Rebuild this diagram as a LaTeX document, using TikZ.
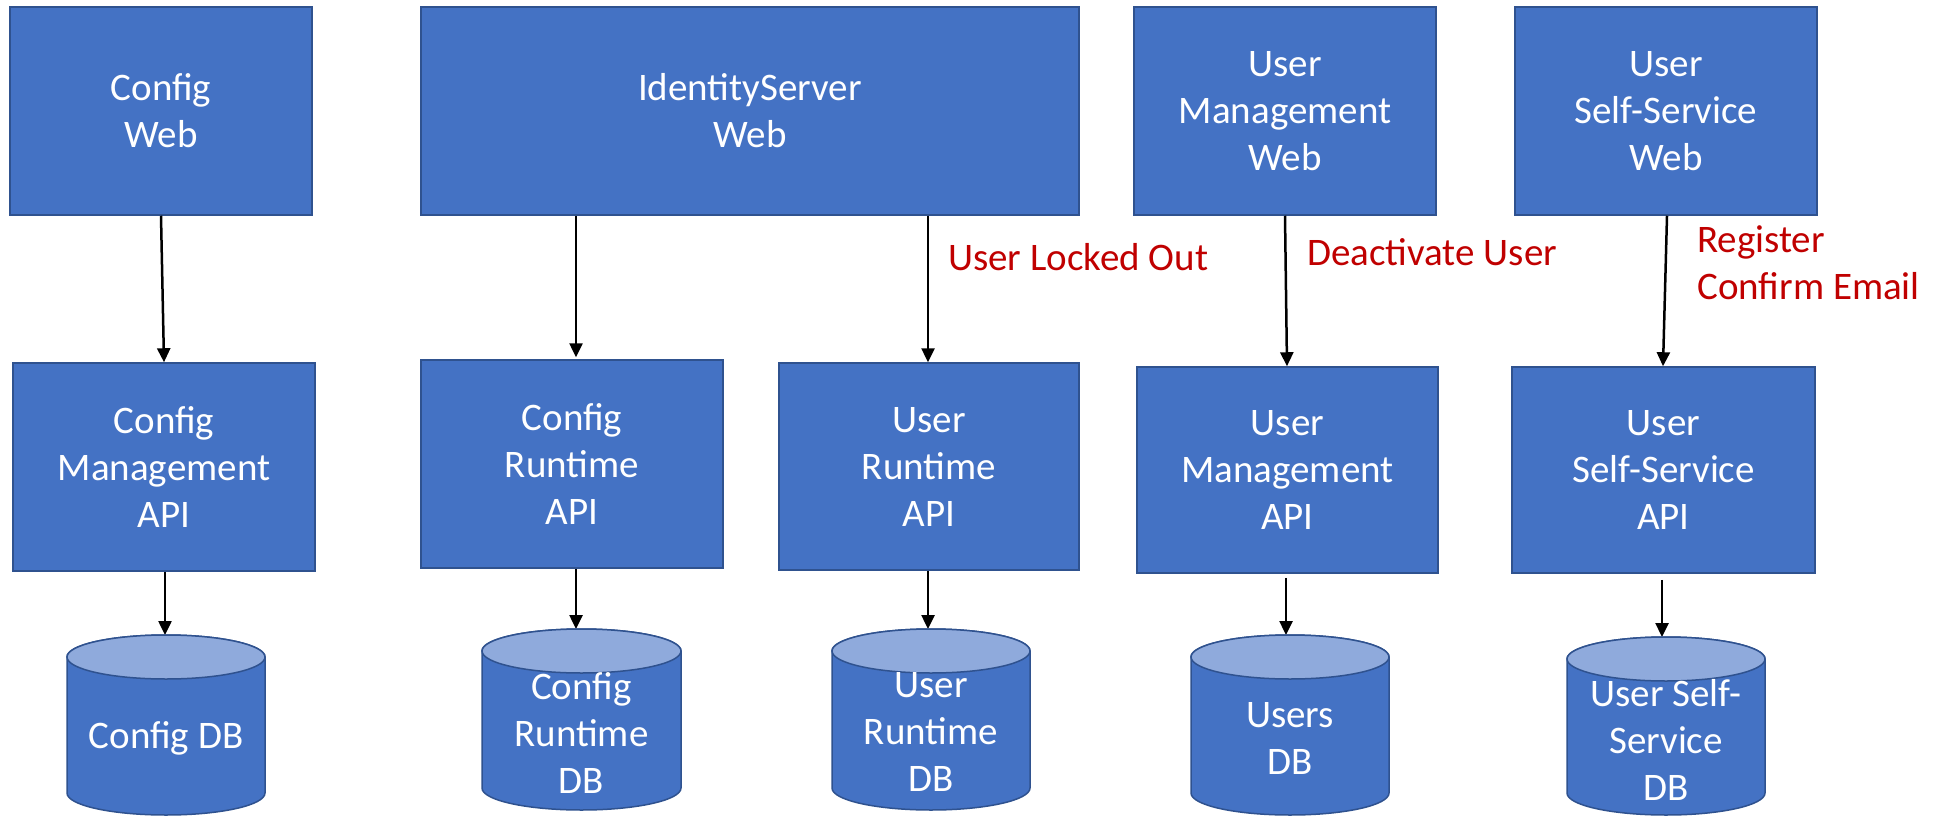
\documentclass[tikz,border=0pt]{standalone}
\usepackage{fontspec}
\setmainfont{Carlito}
\usetikzlibrary{arrows.meta,calc}
\definecolor{boxblue}{HTML}{4472C4}
\definecolor{boxedge}{HTML}{2F528F}
\definecolor{toplight}{HTML}{8FAADC}
\definecolor{labelred}{HTML}{C00000}
\newcommand\dbcyl[4]{%
  \pgfmathsetmacro\cxa{(#1+#2)/2}%
  \pgfmathsetmacro\rxa{(#2-#1)/2}%
  \filldraw[dbbody] (#1,#3+22) -- (#1,#4-22)
     arc[start angle=180,end angle=0,x radius=\rxa,y radius=22]
     -- (#2,#3+22)
     arc[start angle=0,end angle=-180,x radius=\rxa,y radius=22] -- cycle;
  \filldraw[dbtop] (\cxa,#3+22) ellipse[x radius=\rxa,y radius=22];
}
\begin{document}
\begin{tikzpicture}[x=1pt,y=-1pt,
  bx/.style={draw=boxedge,fill=boxblue,line width=1.5pt,inner sep=0pt,
     text=white,align=center,font=\fontsize{39}{47}\selectfont},
  dbbody/.style={draw=boxedge,fill=boxblue,line width=1.5pt},
  dbtop/.style={draw=boxedge,fill=toplight,line width=1.5pt},
  dbtext/.style={text=white,align=center,inner sep=0pt,font=\fontsize{39}{47}\selectfont},
  lbl/.style={text=labelred,align=left,inner sep=0pt,font=\fontsize{39}{47}\selectfont},
  arr/.style={draw=black,line width=2.5pt,-{Triangle[length=14pt,width=13pt]}}]
\fill[white] (0,0) rectangle (1938,816);
\useasboundingbox (0,0) rectangle (1938,816);

% top row
\node[bx,minimum width=302pt,minimum height=208pt] (cw) at (161,111) {Config\\Web};
\node[bx,minimum width=658pt,minimum height=208pt] (isw) at (750,111) {IdentityServer\\Web};
\node[bx,minimum width=302pt,minimum height=208pt] (umw) at (1285,111) {User\\Management\\Web};
\node[bx,minimum width=302pt,minimum height=208pt] (ssw) at (1666,111) {User\\Self-Service\\Web};

% API row
\node[bx,minimum width=302pt,minimum height=208pt] (cma) at (164,467) {Config\\Management\\API};
\node[bx,minimum width=302pt,minimum height=208pt] (cra) at (572,464) {Config\\Runtime\\API};
\node[bx,minimum width=300pt,minimum height=207pt] (ura) at (929,466.5) {User\\Runtime\\API};
\node[bx,minimum width=301pt,minimum height=206pt] (uma) at (1287.5,470) {User\\Management\\API};
\node[bx,minimum width=303pt,minimum height=206pt] (ssa) at (1663.5,470) {User\\Self-Service\\API};

% arrow top targets of DBs
\coordinate (cdbtop) at (165,635);
\coordinate (crdbtop) at (576,629);
\coordinate (urdbtop) at (928,629);
\coordinate (udbtop) at (1286,635);
\coordinate (ssdbtop) at (1662,637);

% arrows
\draw[arr] (cw.south -| 161,0) -- (cma.north -| 164,0);
\draw[arr,shorten >=2pt] (isw.south -| 576,0) -- (cra.north -| 576,0);
\draw[arr] (isw.south -| 928,0) -- (ura.north -| 928,0);
\draw[arr] (umw.south -| 1285,0) -- (uma.north -| 1287,0);
\draw[arr] (ssw.south -| 1667,0) -- (ssa.north -| 1663,0);
\draw[arr] (cma.south -| 165,0) -- (cdbtop);
\draw[arr] (cra.south -| 576,0) -- (crdbtop);
\draw[arr] (ura.south -| 928,0) -- (urdbtop);
\draw[arr,shorten <=4pt] (uma.south -| 1286,0) -- (udbtop);
\draw[arr,shorten <=6pt] (ssa.south -| 1662,0) -- (ssdbtop);

% databases
\dbcyl{67}{265}{635}{815}
\dbcyl{482}{681}{629}{810}
\dbcyl{832}{1030}{629}{810}
\dbcyl{1191}{1389}{635}{815}
\dbcyl{1567}{1765}{637}{815}
\node[dbtext] (cdb) at (166,738) {Config DB};
\node[dbtext] (crdb) at (581.5,733) {Config\\Runtime\\DB};
\node[dbtext] (urdb) at (931,732) {User\\Runtime\\DB};
\node[dbtext] (udb) at (1290,738.5) {Users\\DB};
\node[dbtext] (ssdb) at (1666,740) {User Self-\\Service\\DB};

% labels
\node[lbl,anchor=base west] (lockout) at (948,270) {User Locked Out};
\node[lbl,anchor=base west] (deact) at (1307,265) {Deactivate User};
\node[lbl,anchor=base west] (regconf) at (1697,299) {Register\\Confirm Email};
\end{tikzpicture}
\end{document}
